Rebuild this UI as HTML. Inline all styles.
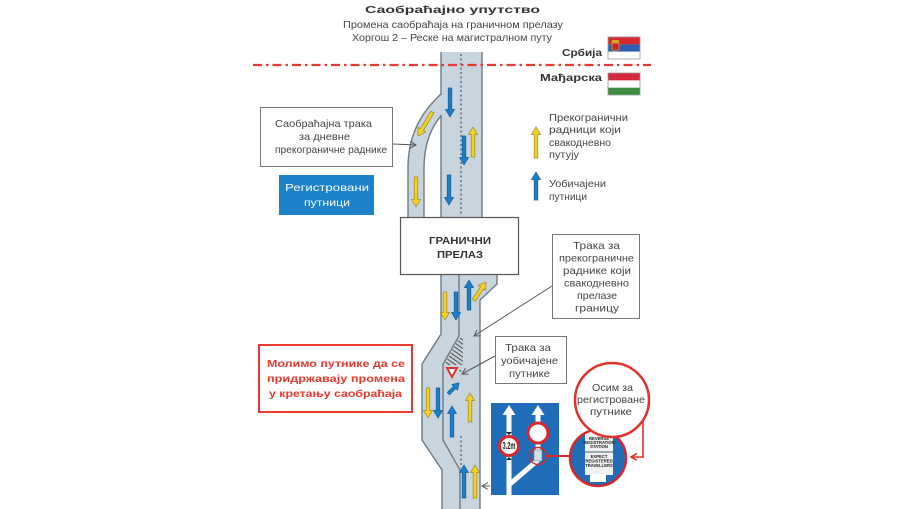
<!DOCTYPE html>
<html><head><meta charset="utf-8">
<style>
html,body{margin:0;padding:0;background:#fff;}
svg{display:block;}
.t{font-family:"Liberation Sans","DejaVu Sans",sans-serif;fill:#454545;font-size:10.5px;}
.b{font-weight:bold;}
.bl{fill:#1e7fc6;stroke:#0f5c96;stroke-width:0.7;}
.ye{fill:#f4d128;stroke:#9c861a;stroke-width:0.7;}
.edge{fill:none;stroke:#6e7a84;stroke-width:1.4;}
.co{fill:none;stroke:#555;stroke-width:1;}
</style></head>
<body>
<svg width="904" height="509" viewBox="0 0 904 509" xmlns="http://www.w3.org/2000/svg">
<defs>
<marker id="ah" markerWidth="8" markerHeight="8" refX="6" refY="3.5" orient="auto" markerUnits="userSpaceOnUse">
<path d="M0,0 L6,3.5 L0,7" fill="none" stroke="#555" stroke-width="1"/>
</marker>
<marker id="ahr" markerWidth="9" markerHeight="9" refX="6" refY="3.5" orient="auto" markerUnits="userSpaceOnUse">
<path d="M0,0 L6,3.5 L0,7" fill="none" stroke="#e4322b" stroke-width="1.6"/>
</marker>
<pattern id="hatch" patternUnits="userSpaceOnUse" width="3.5" height="3.5" patternTransform="rotate(-55)">
<line x1="1" y1="0" x2="1" y2="3.5" stroke="#555" stroke-width="1.1"/>
</pattern>
<clipPath id="bigc"><circle cx="598" cy="458" r="27"/></clipPath>
</defs>
<rect width="904" height="509" fill="#fff"/>

<!-- Title -->
<text class="t b" x="365" y="13" font-size="18" textLength="175" lengthAdjust="spacingAndGlyphs" style="fill:#333">Саобраћајно упутство</text>
<text class="t" x="343" y="28" textLength="220" lengthAdjust="spacingAndGlyphs">Промена саобраћаја на граничном прелазу</text>
<text class="t" x="352" y="41" textLength="200" lengthAdjust="spacingAndGlyphs">Хоргош 2 – Реске на магистралном путу</text>

<!-- top road -->
<rect x="441" y="52" width="41" height="166" fill="#c8d4de"/>
<path d="M441,94 C428,106 408,128 408,168 L408,218 L424,218 L424,168 C424,143 432,126 441,116 Z" fill="#c8d4de"/>
<path class="edge" d="M441,52 V95 M441,115 V218 M482,52 V218"/>
<path class="edge" d="M441,94 C428,106 408,128 408,168 L408,218 M441,116 C432,126 424,143 424,168 L424,218"/>
<line x1="461" y1="54" x2="461" y2="216" stroke="#5f6b75" stroke-width="1.5" stroke-dasharray="2 2.5"/>

<!-- bottom road -->
<path d="M441,275 L497,275 L497,284 L480,300 L480,509 L442,509 L442,470 L422,440 L422,364 L441,334 Z" fill="#c8d4de"/>
<path class="edge" d="M441,275 L441,334 L422,364 L422,440 L442,470 L442,509"/>
<path class="edge" d="M459,275 L459,336 L443,364 L443,440 L460,470 L460,509"/>
<path class="edge" d="M497,275 L497,284 L480,300 L480,509"/>
<polygon points="459,338 463,338 463,365 444,365" fill="url(#hatch)"/>
<line x1="461" y1="436" x2="461" y2="468" stroke="#5f6b75" stroke-width="1.5" stroke-dasharray="2 2.5"/>
<rect x="459.5" y="370" width="1.6" height="1.6" fill="#555"/>
<polygon points="447,368 457,368 452,377" fill="#fff" stroke="#e4322b" stroke-width="2"/>

<!-- red border line -->
<line x1="253" y1="65" x2="651" y2="65" stroke="#e63a33" stroke-width="2.2" stroke-dasharray="9 4 2.5 4"/>

<!-- arrows top -->
<path class="bl" transform="translate(450,117) rotate(180)" d="M0,0L4.5,7.5L1.8,7.5L1.8,29L-1.8,29L-1.8,7.5L-4.5,7.5Z"/>
<path class="bl" transform="translate(449,205) rotate(180)" d="M0,0L4.5,7.5L1.8,7.5L1.8,30L-1.8,30L-1.8,7.5L-4.5,7.5Z"/>
<path class="ye" transform="translate(473,127)" d="M0,0L4.5,7.5L1.8,7.5L1.8,30L-1.8,30L-1.8,7.5L-4.5,7.5Z"/>
<path class="bl" transform="translate(464,165) rotate(180)" d="M0,0L4.5,7.5L1.8,7.5L1.8,29L-1.8,29L-1.8,7.5L-4.5,7.5Z"/>
<path class="ye" transform="translate(418,136) rotate(-149)" d="M0,0L4.5,7.5L1.8,7.5L1.8,28L-1.8,28L-1.8,7.5L-4.5,7.5Z"/>
<path class="ye" transform="translate(416,207) rotate(180)" d="M0,0L4.5,7.5L1.8,7.5L1.8,30L-1.8,30L-1.8,7.5L-4.5,7.5Z"/>

<!-- arrows bottom -->
<path class="ye" transform="translate(445,320) rotate(180)" d="M0,0L4.5,7.5L1.8,7.5L1.8,28L-1.8,28L-1.8,7.5L-4.5,7.5Z"/>
<path class="bl" transform="translate(456,320) rotate(180)" d="M0,0L4.5,7.5L1.8,7.5L1.8,28L-1.8,28L-1.8,7.5L-4.5,7.5Z"/>
<path class="bl" transform="translate(469,280)" d="M0,0L4.5,7.5L1.8,7.5L1.8,30L-1.8,30L-1.8,7.5L-4.5,7.5Z"/>
<path class="ye" transform="translate(486,282) rotate(34)" d="M0,0L4.5,7L1.8,7L1.8,22L-1.8,22L-1.8,7L-4.5,7Z"/>
<path class="ye" transform="translate(428,418) rotate(180)" d="M0,0L4.5,7.5L1.8,7.5L1.8,30L-1.8,30L-1.8,7.5L-4.5,7.5Z"/>
<path class="bl" transform="translate(438,418) rotate(180)" d="M0,0L4.5,7.5L1.8,7.5L1.8,30L-1.8,30L-1.8,7.5L-4.5,7.5Z"/>
<path class="bl" transform="translate(459,383) rotate(45)" d="M0,0L4,6L1.6,6L1.6,15L-1.6,15L-1.6,6L-4,6Z"/>
<path class="bl" transform="translate(452,406)" d="M0,0L4.5,7.5L1.8,7.5L1.8,31L-1.8,31L-1.8,7.5L-4.5,7.5Z"/>
<path class="ye" transform="translate(470,393)" d="M0,0L4.5,7.5L1.8,7.5L1.8,29L-1.8,29L-1.8,7.5L-4.5,7.5Z"/>
<path class="bl" transform="translate(464,465)" d="M0,0L4.5,7.5L1.8,7.5L1.8,33L-1.8,33L-1.8,7.5L-4.5,7.5Z"/>
<path class="ye" transform="translate(475,465)" d="M0,0L4.5,7.5L1.8,7.5L1.8,33L-1.8,33L-1.8,7.5L-4.5,7.5Z"/>

<!-- border crossing box -->
<rect x="400.5" y="217.5" width="118" height="57" fill="#fff" stroke="#555" stroke-width="1.2"/>
<text class="t b" x="429" y="244" font-size="12" textLength="62" lengthAdjust="spacingAndGlyphs" style="fill:#333">ГРАНИЧНИ</text>
<text class="t b" x="437" y="258" font-size="12" textLength="46" lengthAdjust="spacingAndGlyphs" style="fill:#333">ПРЕЛАЗ</text>

<!-- flags -->
<text class="t b" x="562" y="56" font-size="12.5" textLength="40" lengthAdjust="spacingAndGlyphs" style="fill:#333">Србија</text>
<rect x="608" y="37" width="32" height="7.4" fill="#d7282f"/>
<rect x="608" y="44.4" width="32" height="7.3" fill="#2d5fae"/>
<rect x="608" y="51.7" width="32" height="7.3" fill="#fff"/>
<rect x="612" y="40" width="7" height="3" fill="#d4a52a"/>
<path d="M612,43 h7 v6 q-3.5,4 -7,0z" fill="#c8232c" stroke="#d4a52a" stroke-width="0.8"/>
<rect x="608" y="37" width="32" height="22" fill="none" stroke="#999" stroke-width="0.8"/>
<text class="t b" x="540" y="81" font-size="12.5" textLength="62" lengthAdjust="spacingAndGlyphs" style="fill:#333">Мађарска</text>
<rect x="608" y="73" width="32" height="7.4" fill="#d3283a"/>
<rect x="608" y="80.4" width="32" height="7.3" fill="#fff"/>
<rect x="608" y="87.7" width="32" height="7.3" fill="#3d8c40"/>
<rect x="608" y="73" width="32" height="22" fill="none" stroke="#999" stroke-width="0.8"/>

<!-- box 1 -->
<rect x="260.5" y="107.5" width="132" height="59" fill="#fff" stroke="#777" stroke-width="1"/>
<text class="t" x="275" y="127" textLength="97" lengthAdjust="spacingAndGlyphs">Саобраћајна трака</text>
<text class="t" x="299" y="140" textLength="51" lengthAdjust="spacingAndGlyphs">за дневне</text>
<text class="t" x="275" y="153" textLength="112" lengthAdjust="spacingAndGlyphs">прекограничне раднике</text>
<line class="co" x1="393" y1="144" x2="416" y2="145" marker-end="url(#ah)"/>

<!-- blue box -->
<rect x="279" y="175" width="95" height="40" fill="#1c82cc"/>
<text class="t" x="285" y="191" font-size="12" textLength="84" lengthAdjust="spacingAndGlyphs" style="fill:#fff">Регистровани</text>
<text class="t" x="304" y="206" font-size="12" textLength="46" lengthAdjust="spacingAndGlyphs" style="fill:#fff">путници</text>

<!-- legend -->
<path class="ye" transform="translate(536,127)" d="M0,0L4.5,7.5L1.8,7.5L1.8,31L-1.8,31L-1.8,7.5L-4.5,7.5Z"/>
<text class="t" x="549" y="121" textLength="79" lengthAdjust="spacingAndGlyphs">Прекогранични</text>
<text class="t" x="549" y="133" textLength="72" lengthAdjust="spacingAndGlyphs">радници који</text>
<text class="t" x="549" y="146" textLength="62" lengthAdjust="spacingAndGlyphs">свакодневно</text>
<text class="t" x="549" y="158" textLength="30" lengthAdjust="spacingAndGlyphs">путују</text>
<path class="bl" transform="translate(536,172)" d="M0,0L4.5,7.5L1.8,7.5L1.8,28L-1.8,28L-1.8,7.5L-4.5,7.5Z"/>
<text class="t" x="549" y="187" textLength="57" lengthAdjust="spacingAndGlyphs">Уобичајени</text>
<text class="t" x="549" y="200" textLength="38" lengthAdjust="spacingAndGlyphs">путници</text>

<!-- box 2 -->
<rect x="552.5" y="234.5" width="87" height="84" fill="#fff" stroke="#777" stroke-width="1"/>
<text class="t" x="573" y="249" textLength="47" lengthAdjust="spacingAndGlyphs">Трака за</text>
<text class="t" x="559" y="261.5" textLength="75" lengthAdjust="spacingAndGlyphs">прекограничне</text>
<text class="t" x="563" y="274" textLength="68" lengthAdjust="spacingAndGlyphs">раднике који</text>
<text class="t" x="564" y="286.5" textLength="65" lengthAdjust="spacingAndGlyphs">свакодневно</text>
<text class="t" x="577" y="299" textLength="40" lengthAdjust="spacingAndGlyphs">прелазе</text>
<text class="t" x="575" y="311.5" textLength="44" lengthAdjust="spacingAndGlyphs">границу</text>
<line class="co" x1="552" y1="286" x2="474" y2="336" marker-end="url(#ah)"/>

<!-- box 3 -->
<rect x="495.5" y="336.5" width="71" height="47" fill="#fff" stroke="#777" stroke-width="1"/>
<text class="t" x="505" y="351" textLength="46" lengthAdjust="spacingAndGlyphs">Трака за</text>
<text class="t" x="501" y="364" textLength="57" lengthAdjust="spacingAndGlyphs">уобичајене</text>
<text class="t" x="509" y="377" textLength="41" lengthAdjust="spacingAndGlyphs">путнике</text>
<line class="co" x1="495" y1="356" x2="462" y2="374" marker-end="url(#ah)"/>

<!-- red notice box -->
<rect x="259" y="345" width="153" height="67" fill="#fff" stroke="#e8392e" stroke-width="2"/>
<text class="t b" x="267" y="367" font-size="12" textLength="138" lengthAdjust="spacingAndGlyphs" style="fill:#e8392e">Молимо путнике да се</text>
<text class="t b" x="267" y="382" font-size="12" textLength="138" lengthAdjust="spacingAndGlyphs" style="fill:#e8392e">придржавају промена</text>
<text class="t b" x="269" y="397" font-size="12" textLength="133" lengthAdjust="spacingAndGlyphs" style="fill:#e8392e">у кретању саобраћаја</text>

<!-- blue sign -->
<rect x="491" y="403" width="68" height="92" fill="#1f6db8"/>
<rect x="506.5" y="413" width="5" height="82" fill="#fff"/>
<polygon points="509,405 502.5,415 515.5,415" fill="#fff"/>
<polygon points="538,405 531.5,415 544.5,415" fill="#fff"/>
<path d="M538,414 L538,460 L510,484" fill="none" stroke="#fff" stroke-width="5" stroke-linejoin="round"/>
<polygon points="506,432 512,432 509,435" fill="#222"/>
<polygon points="506,460 512,460 509,457" fill="#222"/>
<circle cx="509" cy="446" r="9.5" fill="#fff" stroke="#d8262c" stroke-width="3"/>
<text class="t b" x="509" y="449" font-size="7.5" text-anchor="middle" textLength="13" lengthAdjust="spacingAndGlyphs" style="fill:#222">3.2m</text>
<circle cx="538" cy="433" r="10" fill="#fff" stroke="#d8262c" stroke-width="3"/>
<rect x="534" y="450" width="8" height="11" fill="#d8dde2" stroke="#666" stroke-width="0.5"/>
<circle cx="538" cy="456" r="8.5" fill="none" stroke="#d8262c" stroke-width="1.5"/>
<line x1="547" y1="456" x2="572" y2="456" stroke="#d8262c" stroke-width="2"/>
<line class="co" x1="490" y1="486" x2="482" y2="486" marker-end="url(#ah)"/>

<!-- big circle -->
<circle cx="598" cy="458" r="28" fill="#1f6db8" stroke="#d8262c" stroke-width="2.5"/>
<g clip-path="url(#bigc)">
<rect x="585" y="432" width="28" height="43" fill="#eef0f2"/>
<rect x="590" y="474" width="16" height="8" fill="#fff"/>
<rect x="585" y="451" width="28" height="2" fill="#9aa"/>
<g transform="translate(599,440) scale(0.4)">
<text class="t b" x="0" y="0" font-size="9" text-anchor="middle" style="fill:#222">REVERSE</text>
<text class="t b" x="0" y="10" font-size="9" text-anchor="middle" style="fill:#222">REGISTRATION</text>
<text class="t b" x="0" y="20" font-size="9" text-anchor="middle" style="fill:#222">STATION</text>
<text class="t b" x="0" y="45" font-size="9" text-anchor="middle" style="fill:#222">EXPECT</text>
<text class="t b" x="0" y="56" font-size="9" text-anchor="middle" style="fill:#222">REGISTERED</text>
<text class="t b" x="0" y="67" font-size="9" text-anchor="middle" style="fill:#222">TRAVELLERS</text>
</g>
</g>

<!-- upper circle -->
<circle cx="612" cy="400" r="37" fill="#fff" stroke="#e4322b" stroke-width="2.5"/>
<text class="t" x="592" y="391" textLength="41" lengthAdjust="spacingAndGlyphs">Осим за</text>
<text class="t" x="577" y="403" textLength="68" lengthAdjust="spacingAndGlyphs">регистроване</text>
<text class="t" x="590" y="415" textLength="42" lengthAdjust="spacingAndGlyphs">путнике</text>
<path d="M643,421 V457 H631" fill="none" stroke="#e4322b" stroke-width="1.6" marker-end="url(#ahr)"/>
</svg>
</body></html>
